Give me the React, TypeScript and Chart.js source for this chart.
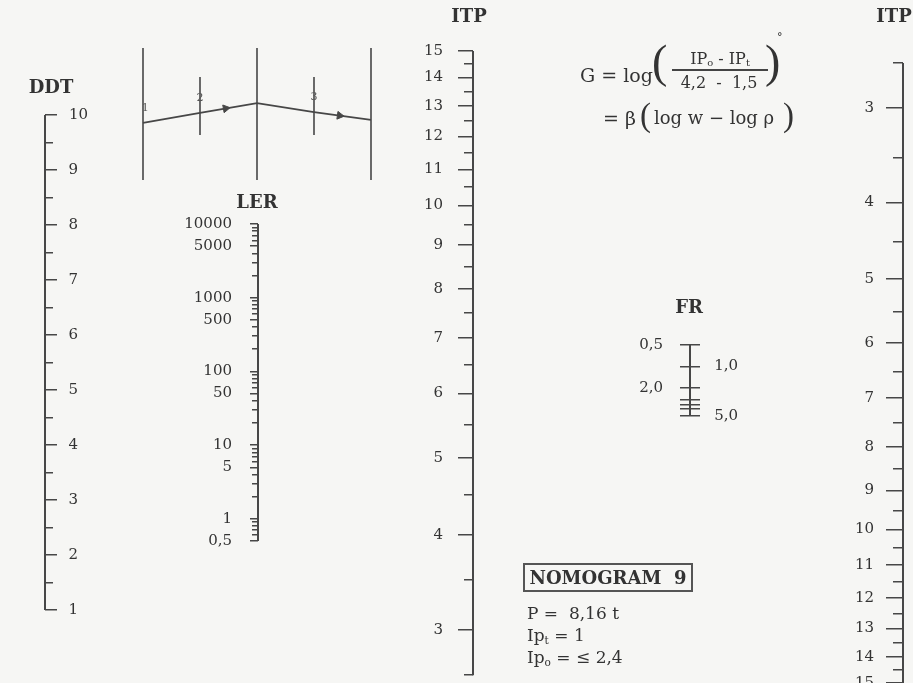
import React, { useEffect, useRef } from 'react';
import { Chart, registerables } from 'chart.js';

Chart.register(...registerables);

const PAGE_W = 913;
const PAGE_H = 683;
const MARGIN = 40;

const TEXT = '#333333';
const LINE = '#474747';
const BG = '#f6f6f4';
const SERIF = '"DejaVu Serif", "Liberation Serif", serif';
const TIMES = '"Liberation Serif", serif';

// ---------------- data ----------------
const DDT_MAJOR = [1, 2, 3, 4, 5, 6, 7, 8, 9, 10];
const DDT_MINOR = [1.5, 2.5, 3.5, 4.5, 5.5, 6.5, 7.5, 8.5, 9.5];
const DDT_LABELS = ['1', '2', '3', '4', '5', '6', '7', '8', '9', '10'];

const LER_MAJOR = [0.5, 1, 5, 10, 50, 100, 500, 1000, 5000, 10000];
const LER_LABELS = ['0,5', '1', '5', '10', '50', '100', '500', '1000', '5000', '10000'];
const LER_MINOR = [
  0.6, 0.7, 0.8, 0.9, 2, 3, 4, 6, 7, 8, 9, 20, 30, 40, 60, 70, 80, 90,
  200, 300, 400, 600, 700, 800, 900, 2000, 3000, 4000, 6000, 7000, 8000, 9000,
];

const ITP_MAJOR = [3, 4, 5, 6, 7, 8, 9, 10, 11, 12, 13, 14, 15];
const ITP_LABELS = ['3', '4', '5', '6', '7', '8', '9', '10', '11', '12', '13', '14', '15'];
const ITP_MINOR = [2.6, 3.5, 4.5, 5.5, 6.5, 7.5, 8.5, 9.5, 10.5, 11.5, 12.5, 13.5, 14.5];
const ITP_ENDS = [2.6, 15];
const ITP_SHIFT = 0.8; // the ITP scales are graduated as log(ITP + 0.8)

const FR_TICKS = [0.5, 1, 2, 3, 3.5, 4, 5];
const FR_LEFT_VALUES = [0.5, 2];
const FR_LEFT_LABELS = ['0,5', '2,0'];
const FR_RIGHT_VALUES = [1, 5];
const FR_RIGHT_LABELS = ['1,0', '5,0'];

// schematic at the top (abstract units)
const DIAG_COLS = [0, 1, 2, 3, 4];
const DIAG_COL_BOTTOM = [0, 3.4, 0, 3.4, 0];
const DIAG_COL_TOP = [10, 7.8, 10, 7.8, 10];
const DIAG_PATH_Y = [4.32, 5.08, 5.83, 5.15, 4.55];
const DIAG_ARROW_X = [1.45, 3.45];
const DIAG_ARROW_Y = [5.42, 4.88];
const DIAG_ARROW_ROT = [80, 98];
const DIAG_POINT_LABELS = ['1', '2', '3'];
const DIAG_POINT_X = [0.04, 1.0, 3.0];
const DIAG_POINT_Y = [5.45, 6.2, 6.3];

const AXIS_TITLES = ['DDT', 'LER', 'ITP', 'FR', 'ITP'];

// ---------------- layout (page pixels) ----------------
const TITLE_POS = [
  { x: 51, y: 88 },
  { x: 257, y: 203 },
  { x: 469, y: 17 },
  { x: 689, y: 308 },
  { x: 894, y: 17 },
];
const CAL = {
  ddt: { x: 45, p1: 115, p2: 610, labelX: 78, labelX2: 88 },
  ler: { x: 258, p1: 224, p2: 541, labelX: 232 },
  itp: { x: 473, p1: 51, p2: 630, labelX: 443 },
  fr: { x: 690, p1: 345, p2: 416, labelLeftX: 663, labelRightX: 738 },
  itpR: { x: 903, p1: 108, p2: 683, labelX: 874 },
  diagX: { p1: 143, p2: 371 },
  diagY: { p1: 180, p2: 48 },
};

function fitRange(v1, p1, v2, p2, log, reverse) {
  const f = log ? Math.log10 : (v) => v;
  const a = f(v1);
  const b = f(v2);
  let lo;
  let hi;
  if (!reverse) {
    const k = (a - b) / (p2 - p1);
    hi = a + p1 * k;
    lo = hi - PAGE_H * k;
  } else {
    const k = (b - a) / (p2 - p1);
    lo = a - p1 * k;
    hi = lo + PAGE_H * k;
  }
  return log ? { min: Math.pow(10, lo), max: Math.pow(10, hi) } : { min: lo, max: hi };
}

function fitRangeX(v1, p1, v2, p2) {
  const k = (v2 - v1) / (p2 - p1);
  const min = v1 - p1 * k;
  return { min, max: min + PAGE_W * k };
}

// One nomogram scale layer: either tick marks (tickLength) or right-aligned labels at x.
function axisScale(o) {
  const tl = o.tickLength || 0;
  return {
    type: o.type,
    axis: 'y',
    position: { x: o.x },
    min: o.range.min,
    max: o.range.max,
    reverse: !!o.reverse,
    bounds: 'data',
    border: { display: false },
    grid: {
      display: tl !== 0,
      drawOnChartArea: false,
      drawTicks: tl !== 0,
      tickLength: tl,
      color: LINE,
      tickColor: LINE,
      lineWidth: 1.5,
      tickWidth: 1.5,
    },
    afterBuildTicks: (scale) => {
      scale.ticks = o.values.map((v) => ({ value: v }));
    },
    ticks: {
      display: !!o.labels,
      autoSkip: false,
      padding: 0,
      color: TEXT,
      font: { family: SERIF, size: o.fontSize || 15 },
      callback: (_v, i) => (o.labels ? o.labels[i] : ''),
    },
  };
}

const shift = (arr) => arr.map((v) => v + ITP_SHIFT);

function buildConfig() {
  const ddtR = fitRange(DDT_MAJOR[DDT_MAJOR.length - 1], CAL.ddt.p1, DDT_MAJOR[0], CAL.ddt.p2, false, false);
  const lerR = fitRange(LER_MAJOR[LER_MAJOR.length - 1], CAL.ler.p1, LER_MAJOR[0], CAL.ler.p2, true, false);
  const itpR = fitRange(15 + ITP_SHIFT, CAL.itp.p1, 3 + ITP_SHIFT, CAL.itp.p2, true, false);
  const frR = fitRange(FR_TICKS[0], CAL.fr.p1, FR_TICKS[FR_TICKS.length - 1], CAL.fr.p2, true, false);
  const itpRR = fitRange(3 + ITP_SHIFT, CAL.itpR.p1, 15 + ITP_SHIFT, CAL.itpR.p2, true, true);
  const dxR = fitRangeX(0, CAL.diagX.p1, 4, CAL.diagX.p2);
  const dyR = fitRange(10, CAL.diagY.p2, 0, CAL.diagY.p1, false, false);

  const spine = (yAxisID, x, ends) => ({
    data: ends.map((v) => ({ x, y: v })),
    xAxisID: 'x',
    yAxisID,
    showLine: true,
    borderColor: LINE,
    borderWidth: 2,
    pointRadius: 0,
  });

  const datasets = [
    spine('ddt', CAL.ddt.x, [DDT_MAJOR[0], DDT_MAJOR[DDT_MAJOR.length - 1]]),
    spine('ler', CAL.ler.x, [LER_MAJOR[0], LER_MAJOR[LER_MAJOR.length - 1]]),
    spine('itp', CAL.itp.x, shift(ITP_ENDS)),
    spine('fr', CAL.fr.x, [FR_TICKS[0], FR_TICKS[FR_TICKS.length - 1]]),
    spine('itpR', CAL.itpR.x, shift(ITP_ENDS)),
    ...DIAG_COLS.map((c, i) => ({
      data: [
        { x: c, y: DIAG_COL_BOTTOM[i] },
        { x: c, y: DIAG_COL_TOP[i] },
      ],
      xAxisID: 'dx',
      yAxisID: 'dy',
      showLine: true,
      borderColor: LINE,
      borderWidth: 1.6,
      pointRadius: 0,
    })),
    {
      data: DIAG_COLS.map((c, i) => ({ x: c, y: DIAG_PATH_Y[i] })),
      xAxisID: 'dx',
      yAxisID: 'dy',
      showLine: true,
      borderColor: LINE,
      borderWidth: 1.8,
      pointRadius: 0,
    },
    {
      data: DIAG_ARROW_X.map((x, i) => ({ x, y: DIAG_ARROW_Y[i] })),
      xAxisID: 'dx',
      yAxisID: 'dy',
      showLine: false,
      pointStyle: 'triangle',
      pointRadius: 4.5,
      pointRotation: DIAG_ARROW_ROT,
      backgroundColor: LINE,
      borderColor: LINE,
      borderWidth: 1,
    },
  ];

  const textPlugin = {
    id: 'nomoText',
    afterDraw(chart) {
      const { ctx, chartArea, scales } = chart;
      ctx.save();
      ctx.fillStyle = TEXT;
      ctx.textAlign = 'center';
      ctx.textBaseline = 'middle';
      ctx.font = 'bold 18px ' + SERIF;
      AXIS_TITLES.forEach((t, i) => {
        ctx.fillText(t, scales.x.getPixelForValue(TITLE_POS[i].x), chartArea.top + TITLE_POS[i].y);
      });
      ctx.font = '11px ' + SERIF;
      ctx.fillStyle = '#555';
      DIAG_POINT_LABELS.forEach((t, i) => {
        ctx.fillText(t, scales.dx.getPixelForValue(DIAG_POINT_X[i]), scales.dy.getPixelForValue(DIAG_POINT_Y[i]));
      });
      ctx.restore();
    },
  };

  return {
    type: 'scatter',
    data: { datasets },
    plugins: [textPlugin],
    options: {
      responsive: false,
      maintainAspectRatio: false,
      animation: false,
      events: [],
      layout: { padding: MARGIN },
      plugins: { legend: { display: false }, tooltip: { enabled: false }, title: { display: false } },
      scales: {
        x: { type: 'linear', min: 0, max: PAGE_W, display: false, bounds: 'data' },
        dx: { type: 'linear', axis: 'x', min: dxR.min, max: dxR.max, display: false, bounds: 'data' },
        dy: { type: 'linear', axis: 'y', min: dyR.min, max: dyR.max, display: false, bounds: 'data' },

        ddt: axisScale({ type: 'linear', range: ddtR, x: CAL.ddt.x, values: DDT_MAJOR, tickLength: -12 }),
        ddtMinor: axisScale({ type: 'linear', range: ddtR, x: CAL.ddt.x, values: DDT_MINOR, tickLength: -8 }),
        ddtLab: axisScale({
          type: 'linear', range: ddtR, x: CAL.ddt.labelX,
          values: DDT_MAJOR.slice(0, 9), labels: DDT_LABELS.slice(0, 9),
        }),
        ddtLab10: axisScale({
          type: 'linear', range: ddtR, x: CAL.ddt.labelX2,
          values: DDT_MAJOR.slice(9), labels: DDT_LABELS.slice(9),
        }),

        ler: axisScale({ type: 'logarithmic', range: lerR, x: CAL.ler.x, values: LER_MAJOR, tickLength: 8 }),
        lerMinor: axisScale({ type: 'logarithmic', range: lerR, x: CAL.ler.x, values: LER_MINOR, tickLength: 6 }),
        lerLab: axisScale({ type: 'logarithmic', range: lerR, x: CAL.ler.labelX, values: LER_MAJOR, labels: LER_LABELS }),

        itp: axisScale({ type: 'logarithmic', range: itpR, x: CAL.itp.x, values: shift(ITP_MAJOR), tickLength: 15 }),
        itpMinor: axisScale({ type: 'logarithmic', range: itpR, x: CAL.itp.x, values: shift(ITP_MINOR), tickLength: 9 }),
        itpLab: axisScale({ type: 'logarithmic', range: itpR, x: CAL.itp.labelX, values: shift(ITP_MAJOR), labels: ITP_LABELS }),

        fr: axisScale({ type: 'logarithmic', range: frR, x: CAL.fr.x + 10, values: FR_TICKS, tickLength: 20 }),
        frLeft: axisScale({ type: 'logarithmic', range: frR, x: CAL.fr.labelLeftX, values: FR_LEFT_VALUES, labels: FR_LEFT_LABELS }),
        frRight: axisScale({ type: 'logarithmic', range: frR, x: CAL.fr.labelRightX, values: FR_RIGHT_VALUES, labels: FR_RIGHT_LABELS }),

        itpR: axisScale({ type: 'logarithmic', range: itpRR, reverse: true, x: CAL.itpR.x, values: shift(ITP_MAJOR), tickLength: 17 }),
        itpRMinor: axisScale({ type: 'logarithmic', range: itpRR, reverse: true, x: CAL.itpR.x, values: shift(ITP_MINOR), tickLength: 10 }),
        itpRLab: axisScale({ type: 'logarithmic', range: itpRR, reverse: true, x: CAL.itpR.labelX, values: shift(ITP_MAJOR), labels: ITP_LABELS }),
      },
    },
  };
}

function Txt({ x, y, size, children, bold = false, family = SERIF, center = false, style = {} }) {
  return (
    <div
      style={{
        position: 'absolute',
        left: x,
        top: y - size / 2,
        fontSize: size,
        lineHeight: `${size}px`,
        fontWeight: bold ? 700 : 400,
        fontFamily: family,
        whiteSpace: 'pre',
        color: TEXT,
        transform: center ? 'translateX(-50%)' : undefined,
        ...style,
      }}
    >
      {children}
    </div>
  );
}

const subStyle = { fontSize: '0.62em', verticalAlign: '-0.25em', lineHeight: 0 };

export default function App() {
  const ref = useRef(null);
  useEffect(() => {
    const chart = new Chart(ref.current, buildConfig());
    return () => chart.destroy();
  }, []);

  return (
    <div
      style={{
        position: 'absolute',
        left: 0,
        top: 0,
        width: PAGE_W,
        height: PAGE_H,
        overflow: 'hidden',
        background: BG,
      }}
    >
      <canvas
        ref={ref}
        width={PAGE_W + 2 * MARGIN}
        height={PAGE_H + 2 * MARGIN}
        style={{ position: 'absolute', left: -MARGIN, top: -MARGIN, width: PAGE_W + 2 * MARGIN, height: PAGE_H + 2 * MARGIN }}
      />

      {/* formula */}
      <Txt x={580} y={75} size={19}>G = log</Txt>
      <Txt x={652} y={62} size={46} family={TIMES}>(</Txt>
      <Txt x={720} y={59} size={16} center>
        IP<span style={subStyle}>o</span> - IP<span style={subStyle}>t</span>
      </Txt>
      <div style={{ position: 'absolute', left: 672, top: 69, width: 96, height: 1.5, background: '#444' }} />
      <Txt x={719} y={83} size={16} center>4,2  -  1,5</Txt>
      <Txt x={765} y={62} size={46} family={TIMES}>)</Txt>
      <Txt x={777} y={37} size={11}>°</Txt>

      <Txt x={603} y={118} size={19}>= β</Txt>
      <Txt x={640} y={115} size={33} family={TIMES}>(</Txt>
      <Txt x={654} y={118} size={18}>log w − log ρ</Txt>
      <Txt x={783} y={115} size={33} family={TIMES}>)</Txt>

      {/* nomogram box */}
      <div
        style={{
          position: 'absolute',
          left: 523,
          top: 563,
          width: 170,
          height: 29,
          boxSizing: 'border-box',
          border: '2px solid #555',
          display: 'flex',
          alignItems: 'center',
          justifyContent: 'center',
          fontFamily: SERIF,
          fontWeight: 700,
          fontSize: 18,
          color: TEXT,
          whiteSpace: 'pre',
        }}
      >
        NOMOGRAM  9
      </div>
      <Txt x={527} y={613} size={17}>P =  8,16 t</Txt>
      <Txt x={527} y={635} size={17}>
        Ip<span style={subStyle}>t</span> = 1
      </Txt>
      <Txt x={527} y={657} size={17}>
        Ip<span style={subStyle}>o</span> = ≤ 2,4
      </Txt>
    </div>
  );
}
